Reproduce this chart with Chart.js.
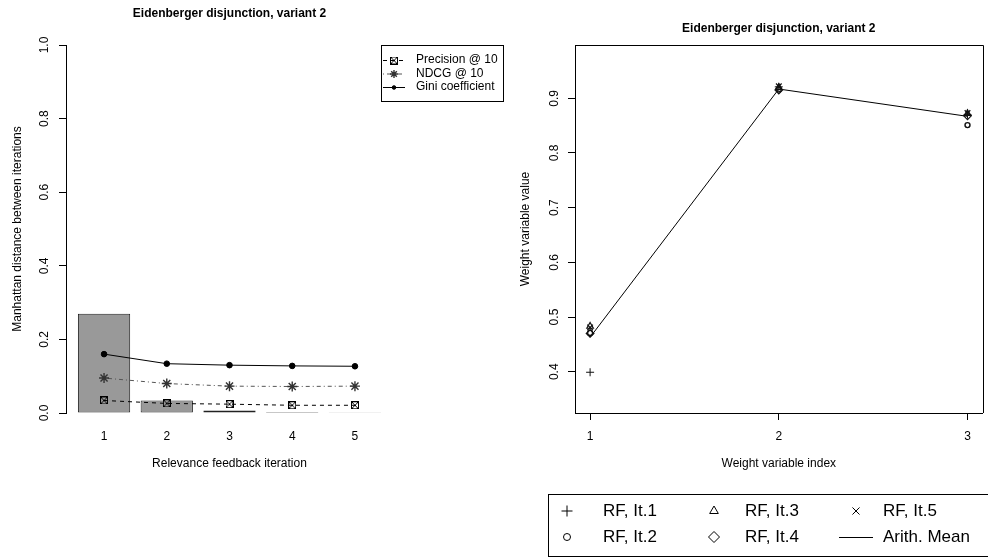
<!DOCTYPE html>
<html>
<head>
<meta charset="utf-8">
<script src="https://cdn.jsdelivr.net/npm/chart.js@4.4.1/dist/chart.umd.min.js"></script>
<style>
  html, body { margin: 0; padding: 0; background: #ffffff; }
  #wrap { position: relative; width: 988px; height: 558px; overflow: hidden; background: #fff; }
  .pane { position: absolute; top: 0; height: 558px; }
</style>
</head>
<body>
<div id="wrap">
  <div class="pane" style="left:0;width:530px"><canvas id="distChart" width="530" height="558"></canvas></div>
  <div class="pane" style="left:494px;width:494px"><canvas id="weightChart" width="494" height="558"></canvas></div>
</div>
<script>
// ---- Left panel: distances between relevance feedback iterations ----
const iterations   = [1, 2, 3, 4, 5];
const manhattan    = [0.270, 0.034, 0.007, 0.003, 0.001];
const precision10  = [0.034, 0.026, 0.024, 0.021, 0.021];
const ndcg10       = [0.095, 0.080, 0.073, 0.072, 0.073];
const gini         = [0.160, 0.134, 0.130, 0.128, 0.127];
const distTicks    = [0.0, 0.2, 0.4, 0.6, 0.8, 1.0];

// ---- Right panel: weight variable values per iteration ----
const weightIndex  = [1, 2, 3];
const rfIt1        = [0.399, 0.921, 0.870];
const rfIt2        = [0.471, 0.916, 0.851];
const rfIt3        = [0.483, 0.920, 0.872];
const rfIt4        = [0.470, 0.915, 0.868];
const rfIt5        = [0.481, 0.922, 0.873];
const arithMean    = [0.463, 0.917, 0.867];
const weightTicks  = [0.4, 0.5, 0.6, 0.7, 0.8, 0.9];

const titleText = 'Eidenberger disjunction, variant 2';
const FAMILY = "'Liberation Sans', Arial, Helvetica, sans-serif";

Chart.defaults.font.family = FAMILY;
Chart.defaults.font.size = 12;
Chart.defaults.color = '#000';
Chart.defaults.animation = false;

function pts(xs, ys) { return xs.map((x, i) => ({ x: x, y: ys[i] })); }

// square with a cross inside, used as the Precision @ 10 marker
function boxCross(n) {
  const c = document.createElement('canvas');
  c.width = n; c.height = n;
  const g = c.getContext('2d');
  g.strokeStyle = '#000'; g.lineWidth = 1;
  g.strokeRect(0.5, 0.5, n - 1, n - 1);
  g.beginPath();
  g.moveTo(1, 1); g.lineTo(n - 1, n - 1);
  g.moveTo(n - 1, 1); g.lineTo(1, n - 1);
  g.stroke();
  return c;
}
const precisionMark = boxCross(8);

function fixedTicks(values) {
  return function (scale) { scale.ticks = values.map(v => ({ value: v })); };
}

// ---------------- left chart ----------------
const distLegend = {
  id: 'distLegend',
  afterDraw(chart) {
    const ctx = chart.ctx;
    ctx.save();
    ctx.strokeStyle = '#000'; ctx.lineWidth = 1;
    ctx.strokeRect(381.5, 45.5, 122, 56);
    const rows = [1, 2, 3];
    const ys = [60, 73.5, 87];
    ctx.font = '12px ' + FAMILY;
    ctx.textBaseline = 'middle';
    ctx.textAlign = 'left';
    rows.forEach((di, k) => {
      const ds = chart.data.datasets[di];
      const y = ys[k];
      ctx.save();
      ctx.strokeStyle = ds.borderColor;
      ctx.lineWidth = 1;
      ctx.setLineDash(ds.borderDash || []);
      ctx.beginPath(); ctx.moveTo(383, y + 0.5); ctx.lineTo(405, y + 0.5); ctx.stroke();
      ctx.setLineDash([]);
      ctx.fillStyle = ds.pointBackgroundColor || ds.borderColor;
      ctx.strokeStyle = ds.pointBorderColor || ds.borderColor;
      ctx.lineWidth = ds.pointBorderWidth || 1;
      Chart.helpers.drawPoint(ctx, { pointStyle: ds.pointStyle, radius: ds.pointRadius - 1, rotation: 0, borderWidth: ds.pointBorderWidth || 1 }, 394, y + 0.5);
      ctx.restore();
      ctx.fillStyle = '#000';
      ctx.fillText(ds.label, 416, y);
    });
    ctx.restore();
  }
};

new Chart(document.getElementById('distChart'), {
  type: 'bar',
  data: {
    datasets: [
      {
        type: 'bar', label: 'Manhattan distance',
        data: pts(iterations, manhattan),
        backgroundColor: '#999999', borderColor: '#222222', borderWidth: 1,
        borderSkipped: false, categoryPercentage: 1, barPercentage: 1 / 1.2,
        order: 10
      },
      {
        type: 'line', label: 'Precision @ 10',
        data: pts(iterations, precision10),
        borderColor: '#000000', borderWidth: 1, borderDash: [4, 4],
        pointStyle: precisionMark, pointRadius: 4, pointBorderColor: '#000', pointBackgroundColor: '#000',
        order: 1
      },
      {
        type: 'line', label: 'NDCG @ 10',
        data: pts(iterations, ndcg10),
        borderColor: '#555555', borderWidth: 1, borderDash: [1, 3, 4, 3],
        pointStyle: 'star', pointRadius: 5, pointBorderWidth: 1.4,
        pointBorderColor: '#333', pointBackgroundColor: '#333',
        order: 2
      },
      {
        type: 'line', label: 'Gini coefficient',
        data: pts(iterations, gini),
        borderColor: '#000000', borderWidth: 1,
        pointStyle: 'circle', pointRadius: 2.8, pointBorderColor: '#000', pointBackgroundColor: '#000',
        order: 0
      }
    ]
  },
  options: {
    responsive: false,
    layout: { padding: { left: 0, right: 137, top: 0, bottom: 0 } },
    plugins: {
      legend: { display: false },
      tooltip: { enabled: false },
      title: {
        display: true, text: titleText, fullSize: false, color: '#000',
        font: { size: 12, weight: 'bold' },
        padding: { top: 6, bottom: 24.6 }
      }
    },
    scales: {
      x: {
        type: 'linear', min: 0.3935, max: 5.6065, offset: false,
        afterBuildTicks: fixedTicks(iterations),
        grid: { display: false, drawTicks: false, offset: false },
        border: { display: false },
        ticks: { padding: 16, maxRotation: 0, autoSkip: false, callback: v => String(v) },
        title: { display: true, text: 'Relevance feedback iteration', padding: { top: 0, bottom: 87 } },
        afterFit: s => { s.height = 145; }
      },
      y: {
        type: 'linear', min: 0, max: 1,
        afterBuildTicks: fixedTicks(distTicks),
        grid: { drawOnChartArea: false, drawTicks: true, tickLength: 7, color: '#000' },
        border: { display: true, color: '#000', width: 1 },
        ticks: { minRotation: 90, maxRotation: 90, crossAlign: 'center', padding: 6, autoSkip: false,
                 callback: v => v.toFixed(1) },
        title: { display: true, text: 'Manhattan distance between iterations', padding: { top: 10, bottom: 0 } },
        afterFit: s => { s.width = 66; }
      }
    }
  },
  plugins: [distLegend]
});

// ---------------- right chart ----------------
const frameTopRight = {
  id: 'frameTopRight',
  afterDraw(chart) {
    const a = chart.chartArea, ctx = chart.ctx;
    ctx.save();
    ctx.strokeStyle = '#000'; ctx.lineWidth = 1;
    ctx.beginPath();
    ctx.moveTo(Math.round(a.left), Math.round(a.top) + 0.5);
    ctx.lineTo(Math.round(a.right) + 0.5, Math.round(a.top) + 0.5);
    ctx.lineTo(Math.round(a.right) + 0.5, Math.round(a.bottom));
    ctx.stroke();
    ctx.restore();
  }
};

const weightLegend = {
  id: 'weightLegend',
  afterDraw(chart) {
    const ctx = chart.ctx;
    ctx.save();
    ctx.strokeStyle = '#000'; ctx.lineWidth = 1;
    ctx.strokeRect(54.5, 494.5, 446, 62);
    ctx.font = '17px ' + FAMILY;
    ctx.textBaseline = 'middle';
    ctx.textAlign = 'left';
    const cols = [{ sym: 73, txt: 109 }, { sym: 220, txt: 251 }, { sym: 362, txt: 389 }];
    const rowsY = [511, 537];
    const sizes = [5.5, 3.5, 5, 5.5, 5];
    chart.data.datasets.forEach((ds, i) => {
      const col = cols[Math.floor(i / 2)];
      const y = rowsY[i % 2];
      ctx.save();
      ctx.strokeStyle = '#000'; ctx.fillStyle = 'rgba(0,0,0,0)'; ctx.lineWidth = 1;
      if (ds.showLine === false) {
        Chart.helpers.drawPoint(ctx, { pointStyle: ds.pointStyle, radius: sizes[i], rotation: 0, borderWidth: 1 }, col.sym, y);
      } else {
        ctx.beginPath(); ctx.moveTo(col.sym - 17, y + 0.5); ctx.lineTo(col.sym + 17, y + 0.5); ctx.stroke();
      }
      ctx.restore();
      ctx.fillStyle = '#000';
      ctx.fillText(ds.label, col.txt, y);
    });
    ctx.restore();
  }
};

function pointSeries(label, values, style, radius, width) {
  return {
    label: label, data: pts(weightIndex, values), showLine: false,
    pointStyle: style, pointRadius: radius, pointBorderWidth: width,
    pointBorderColor: '#111', pointBackgroundColor: 'rgba(0,0,0,0)',
    borderColor: '#000', backgroundColor: 'rgba(0,0,0,0)'
  };
}

new Chart(document.getElementById('weightChart'), {
  type: 'line',
  data: {
    datasets: [
      pointSeries('RF, It.1', rfIt1, 'cross', 4, 1),
      pointSeries('RF, It.2', rfIt2, 'circle', 2.5, 1.4),
      pointSeries('RF, It.3', rfIt3, 'triangle', 3.8, 1.2),
      pointSeries('RF, It.4', rfIt4, 'rectRot', 3.8, 1.2),
      pointSeries('RF, It.5', rfIt5, 'crossRot', 4, 1.2),
      {
        label: 'Arith. Mean', data: pts(weightIndex, arithMean), showLine: true,
        borderColor: '#000', borderWidth: 1, pointRadius: 0, fill: false
      }
    ]
  },
  options: {
    responsive: false,
    layout: { padding: { left: 0, right: 2, top: 0, bottom: 0 } },
    plugins: {
      legend: { display: false },
      tooltip: { enabled: false },
      title: {
        display: true, text: titleText, fullSize: false, color: '#000',
        font: { size: 12, weight: 'bold' },
        padding: { top: 21, bottom: 9.6 }
      }
    },
    scales: {
      x: {
        type: 'linear', min: 0.92, max: 3.08,
        afterBuildTicks: fixedTicks(weightIndex),
        grid: { drawOnChartArea: false, drawTicks: true, tickLength: 7, color: '#000' },
        border: { display: true, color: '#000', width: 1 },
        ticks: { padding: 9, maxRotation: 0, autoSkip: false, callback: v => String(v) },
        title: { display: true, text: 'Weight variable index', padding: { top: 0, bottom: 87 } },
        afterFit: s => { s.height = 145; }
      },
      y: {
        type: 'linear', min: 0.3245, max: 0.9975,
        afterBuildTicks: fixedTicks(weightTicks),
        grid: { drawOnChartArea: false, drawTicks: true, tickLength: 7, color: '#000' },
        border: { display: true, color: '#000', width: 1 },
        ticks: { minRotation: 90, maxRotation: 90, crossAlign: 'center', padding: 5, autoSkip: false,
                 callback: v => v.toFixed(1) },
        title: { display: true, text: 'Weight variable value', padding: { top: 24, bottom: 0 } },
        afterFit: s => { s.width = 81; }
      }
    }
  },
  plugins: [frameTopRight, weightLegend]
});
</script>
</body>
</html>
